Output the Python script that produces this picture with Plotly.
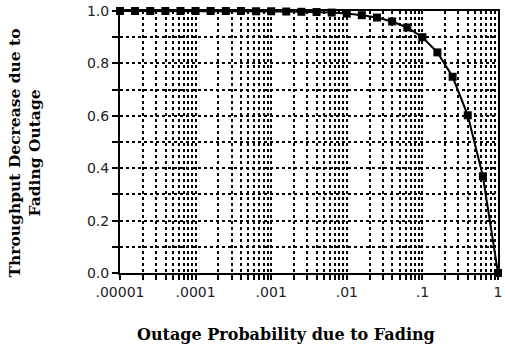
import plotly.graph_objects as go

# Data (0.2-decade steps)
outage_prob = [0.00001, 0.0000158, 0.0000251, 0.0000398, 0.0000631,
               0.0001, 0.000158, 0.000251, 0.000398, 0.000631,
               0.001, 0.00158, 0.00251, 0.00398, 0.00631,
               0.01, 0.0158, 0.0251, 0.0398, 0.0631,
               0.1, 0.158, 0.251, 0.398, 0.631, 1.0]
throughput = [1.0, 1.0, 1.0, 1.0, 1.0,
              1.0, 1.0, 1.0, 1.0, 0.999,
              0.999, 0.998, 0.997, 0.996, 0.994,
              0.99, 0.984, 0.975, 0.96, 0.937,
              0.90, 0.842, 0.749, 0.602, 0.369, 0.0]

x_major = [0.00001, 0.0001, 0.001, 0.01, 0.1, 1]
x_major_text = [".00001", ".0001", ".001", ".01", ".1", "1"]
y_ticks = [0.0, 0.1, 0.2, 0.3, 0.4, 0.5, 0.6, 0.7, 0.8, 0.9, 1.0]
y_text = ["0.0", "", "0.2", "", "0.4", "", "0.6", "", "0.8", "", "1.0"]

x_tickvals, x_ticktext = [], []
for i, d in enumerate(x_major):
    x_tickvals.append(d)
    x_ticktext.append(x_major_text[i])
    if d < 1:
        for m in range(2, 10):
            x_tickvals.append(d * m)
            x_ticktext.append("")

fig = go.Figure()
fig.add_trace(go.Scatter(
    x=outage_prob, y=throughput, mode="lines+markers",
    line=dict(color="black", width=2),
    marker=dict(symbol="square", size=8, color="black",
                line=dict(color="black", width=0)),
    cliponaxis=False, showlegend=False))

tickfont = dict(family="DejaVu Sans", size=14, color="#222")
fig.update_xaxes(type="log", range=[-5, 0], tickvals=x_tickvals, ticktext=x_ticktext,
                 showgrid=True, gridcolor="black", griddash="dot", gridwidth=1.5,
                 ticks="outside", ticklen=5, tickcolor="black", tickwidth=1.5,
                 showline=True, linecolor="black", linewidth=2, mirror=True,
                 zeroline=False, tickfont=tickfont)
fig.update_yaxes(range=[0, 1], tickvals=y_ticks, ticktext=y_text,
                 showgrid=True, gridcolor="black", griddash="dot", gridwidth=1.5,
                 ticks="outside", ticklen=6, tickcolor="black", tickwidth=1.5,
                 showline=True, linecolor="black", linewidth=2, mirror=True,
                 zeroline=False, tickfont=tickfont)

fig.add_annotation(text="<b>Outage Probability due to Fading</b>", xref="paper", yref="paper",
                   x=0.44, y=-0.233, yanchor="middle", showarrow=False,
                   font=dict(family="DejaVu Serif", size=16, color="black"))
fig.add_annotation(text="<b>Throughput Decrease due to<br>Fading Outage</b>", xref="paper", yref="paper",
                   x=-0.254, y=0.46, xanchor="center", yanchor="middle", textangle=-90,
                   showarrow=False,
                   font=dict(family="DejaVu Serif", size=15.5, color="black"))

fig.update_layout(width=505, height=347, margin=dict(l=120, r=3, t=11, b=74),
                  plot_bgcolor="white", paper_bgcolor="white")
fig.write_html("out.html")
